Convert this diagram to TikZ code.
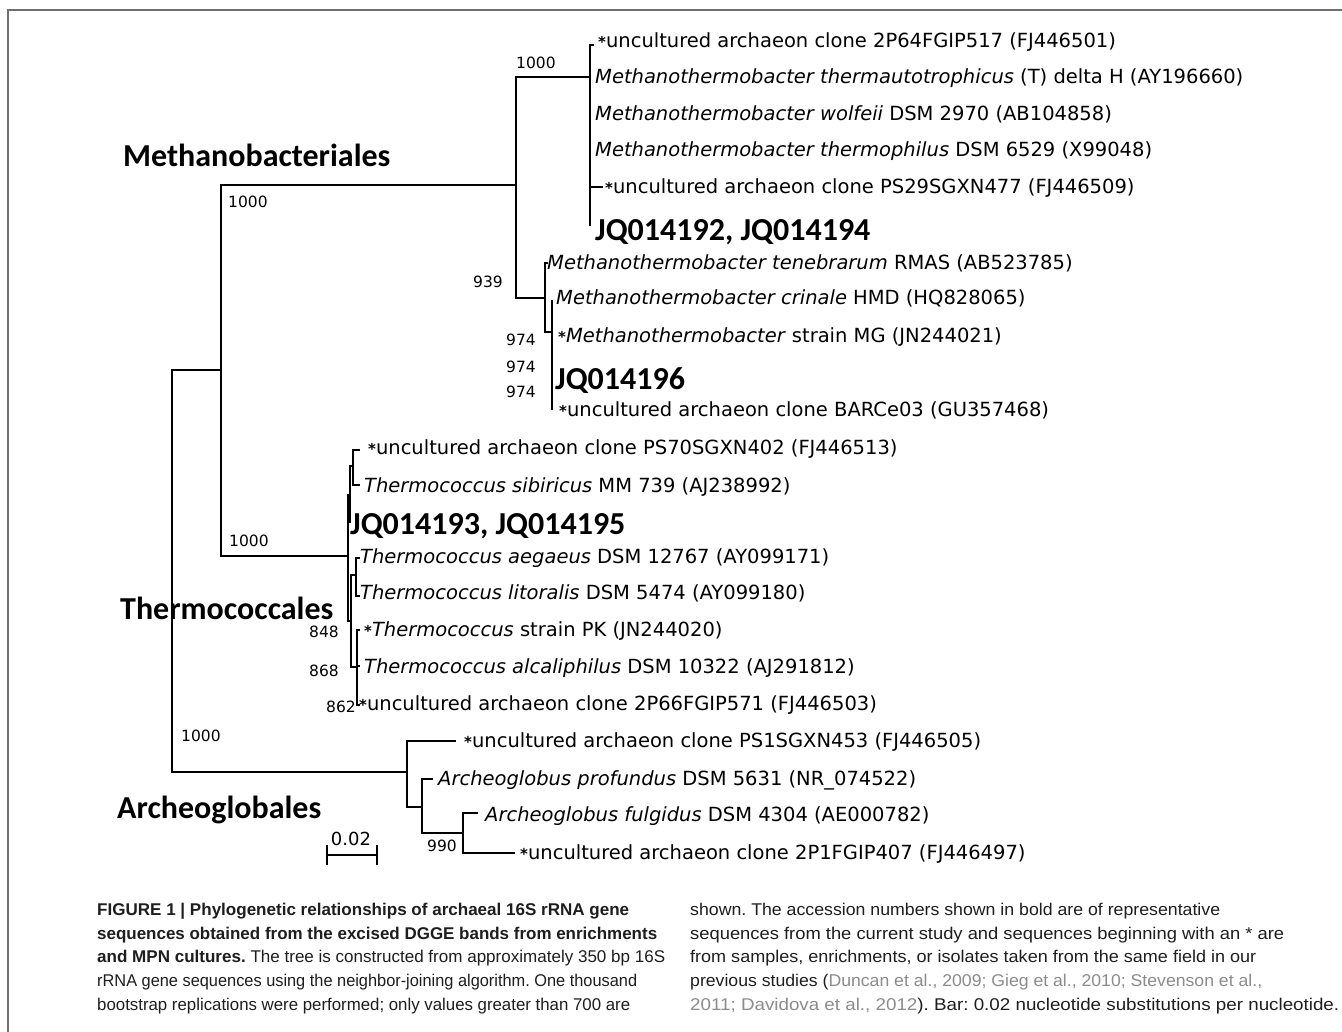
\documentclass[tikz,border=0pt]{standalone}
\usepackage{fontspec}
\usepackage{graphicx}
\setmainfont{DejaVu Sans}
\newfontfamily\carlito{Carlito}
\newfontfamily\capfont{Liberation Sans}
\definecolor{capgray}{HTML}{1E1E1E}
\definecolor{citegray}{HTML}{8C8C8C}
\definecolor{framegray}{HTML}{707070}
\newcommand\mystar{{\fontsize{15}{15}\selectfont\bfseries *}}
\newcommand\leaffont{\fontsize{19.5}{23}\selectfont}
\newcommand\capfit[2]{\resizebox{#1pt}{\height}{#2}}
\frenchspacing
\tikzset{
  br/.style={line width=1.8pt, black},
  leaf/.style={anchor=base west, inner sep=0pt, font=\leaffont},
  acc/.style={anchor=base west, inner sep=0pt, font=\carlito\bfseries\fontsize{32}{36}\selectfont},
  clade/.style={anchor=base west, inner sep=0pt, text depth=0pt, font=\carlito\bfseries\fontsize{32}{36}\selectfont},
  boot/.style={anchor=base west, inner sep=0pt, font=\fontsize{15.5}{18}\selectfont},
  capline/.style={anchor=base west, inner sep=0pt, font=\capfont\fontsize{17}{20}\selectfont, text=capgray},
}
\begin{document}
\begin{tikzpicture}[x=1pt,y=-1pt]
\useasboundingbox (0,0) rectangle (1342,1032);
\fill[white] (0,0) rectangle (1342,1032);
% frame
\coordinate (fa) at (8,10);
\coordinate (fb) at (1342,10);
\coordinate (fc) at (8,1032);
\draw[framegray, line width=1.6pt] (fc) -- (fa) -- (fb);

% internal nodes
\coordinate (R) at (172,571);
\coordinate (A) at (221,370);
\coordinate (M) at (516,185);
\coordinate (M1) at (590,77);
\coordinate (M2) at (545,298);
\coordinate (M3) at (552,332);
\coordinate (T) at (348,556);
\coordinate (U) at (350,495);
\coordinate (U1) at (353,466);
\coordinate (L) at (351,621);
\coordinate (AL) at (356,575);
\coordinate (PK) at (357,667);
\coordinate (Ar) at (407,772);
\coordinate (Ar2) at (422,807);
\coordinate (Ar3) at (463,833);
% leaf tips
\coordinate (p1) at (594,45);
\coordinate (p2) at (590,77);
\coordinate (p3) at (590,114);
\coordinate (p4) at (590,150);
\coordinate (p5) at (603,187);
\coordinate (p6) at (590,226);
\coordinate (p7) at (548,263);
\coordinate (p8) at (552,300);
\coordinate (p9) at (552,336);
\coordinate (p10) at (552,378);
\coordinate (p11) at (552,410);
\coordinate (p12) at (360,450);
\coordinate (p13) at (360,485);
\coordinate (p14) at (350,523);
\coordinate (p15) at (360,558);
\coordinate (p16) at (360,596);
\coordinate (p17) at (360,630);
\coordinate (p18) at (360,666);
\coordinate (p19) at (360,705);
\coordinate (p20) at (456,741);
\coordinate (p21) at (433,779);
\coordinate (p22) at (478,813);
\coordinate (p23) at (515,853);

% branches
\draw[br] (R) |- (A);
\draw[br] (R) |- (Ar);
\draw[br] (A) |- (M);
\draw[br] (A) |- (T);
\draw[br] (M) |- (M1);
\draw[br] (M) |- (M2);
\foreach \c in {p1,p2,p3,p4,p5,p6} \draw[br] (M1) |- (\c);
\draw[br] (M2) |- (p7);
\draw[br] (M2) |- (M3);
\foreach \c in {p8,p9,p10,p11} \draw[br] (M3) |- (\c);
\draw[br] (T) |- (U);
\draw[br] (T) |- (L);
\draw[br] (U) |- (U1);
\draw[br] (U) |- (p14);
\draw[br] (U1) |- (p12);
\draw[br] (U1) |- (p13);
\draw[br] (L) |- (AL);
\draw[br] (L) |- (PK);
\draw[br] (AL) |- (p15);
\draw[br] (AL) |- (p16);
\foreach \c in {p17,p18,p19} \draw[br] (PK) |- (\c);
\draw[br] (Ar) |- (p20);
\draw[br] (Ar) |- (Ar2);
\draw[br] (Ar2) |- (p21);
\draw[br] (Ar2) |- (Ar3);
\draw[br] (Ar3) |- (p22);
\draw[br] (Ar3) |- (p23);

% leaf labels
\node[leaf] (t1) at (598,48) {\mystar uncultured archaeon clone 2P64FGIP517 (FJ446501)};
\node[leaf] (t2) at (595,84) {\textit{Methanothermobacter thermautotrophicus} (T) delta H (AY196660)};
\node[leaf] (t3) at (595,121) {\textit{Methanothermobacter wolfeii} DSM 2970 (AB104858)};
\node[leaf] (t4) at (595,157) {\textit{Methanothermobacter thermophilus} DSM 6529 (X99048)};
\node[leaf] (t5) at (605,194) {\mystar uncultured archaeon clone PS29SGXN477 (FJ446509)};
\node[acc] (t6) at (595,241) {JQ014192, JQ014194};
\node[leaf] (t7) at (547,270) {\textit{Methanothermobacter tenebrarum} RMAS (AB523785)};
\node[leaf] (t8) at (556,305) {\textit{Methanothermobacter crinale} HMD (HQ828065)};
\node[leaf] (t9) at (558,343) {\mystar\textit{Methanothermobacter} strain MG (JN244021)};
\node[acc] (t10) at (555,389) {JQ014196};
\node[leaf] (t11) at (559,417) {\mystar uncultured archaeon clone BARCe03 (GU357468)};
\node[leaf] (t12) at (368,454) {\mystar uncultured archaeon clone PS70SGXN402 (FJ446513)};
\node[leaf] (t13) at (364,492) {\textit{Thermococcus sibiricus} MM 739 (AJ238992)};
\node[acc] (t14) at (350,534) {JQ014193, JQ014195};
\node[leaf] (t15) at (360,563) {\textit{Thermococcus aegaeus} DSM 12767 (AY099171)};
\node[leaf] (t16) at (360,599) {\textit{Thermococcus litoralis} DSM 5474 (AY099180)};
\node[leaf] (t17) at (364,636) {\mystar\textit{Thermococcus} strain PK (JN244020)};
\node[leaf] (t18) at (364,673) {\textit{Thermococcus alcaliphilus} DSM 10322 (AJ291812)};
\node[leaf] (t19) at (359,710) {\mystar uncultured archaeon clone 2P66FGIP571 (FJ446503)};
\node[leaf] (t20) at (464,747) {\mystar uncultured archaeon clone PS1SGXN453 (FJ446505)};
\node[leaf] (t21) at (438,785) {\textit{Archeoglobus profundus} DSM 5631 (NR\_074522)};
\node[leaf] (t22) at (485,821) {\textit{Archeoglobus fulgidus} DSM 4304 (AE000782)};
\node[leaf] (t23) at (520,859) {\mystar uncultured archaeon clone 2P1FGIP407 (FJ446497)};

% clade labels
\node[clade] (c1) at (123,167) {Methanobacteriales};
\node[clade] (c2) at (120,619) {Thermococcales};
\node[clade] (c3) at (117,818) {Archeoglobales};

% bootstrap values
\node[boot] (b1) at (516,69) {1000};
\node[boot] (b2) at (228,208) {1000};
\node[boot] (b3) at (473,288) {939};
\node[boot] (b4) at (506,346) {974};
\node[boot] (b5) at (506,373) {974};
\node[boot] (b6) at (506,397) {974};
\node[boot] (b7) at (229,546) {1000};
\node[boot] (b8) at (309,637) {848};
\node[boot] (b9) at (309,676) {868};
\node[boot] (b10) at (326,712) {862};
\node[boot] (b11) at (181,741) {1000};
\node[boot] (b12) at (427,851) {990};

% scale bar
\coordinate (s1) at (327,855);
\coordinate (s2) at (377,855);
\draw[line width=1.8pt] (s1) -- (s2);
\draw[line width=1.8pt] ([yshift=-10pt]s1) -- ([yshift=10pt]s1);
\draw[line width=1.8pt] ([yshift=-10pt]s2) -- ([yshift=10pt]s2);
\node[anchor=base, inner sep=0pt, font=\fontsize{18}{20}\selectfont] (sl) at (351,845) {0.02};

% caption
\node[capline] (k1) at (97,915) {\capfit{532}{\bfseries FIGURE 1 | Phylogenetic relationships of archaeal 16S rRNA gene}};
\node[capline] (k2) at (97,939) {\capfit{560}{\bfseries sequences obtained from the excised DGGE bands from enrichments}};
\node[capline] (k3) at (97,962) {\capfit{568}{\textbf{and MPN cultures.} The tree is constructed from approximately 350 bp 16S}};
\node[capline] (k4) at (97,986) {\capfit{540}{rRNA gene sequences using the neighbor-joining algorithm. One thousand}};
\node[capline] (k5) at (97,1010) {\capfit{533}{bootstrap replications were performed; only values greater than 700 are}};
\node[capline] (k6) at (690,915) {\capfit{530}{shown. The accession numbers shown in bold are of representative}};
\node[capline] (k7) at (690,939) {\capfit{594}{sequences from the current study and sequences beginning with an * are}};
\node[capline] (k8) at (690,962) {\capfit{566}{from samples, enrichments, or isolates taken from the same field in our}};
\node[capline] (k9) at (690,986) {\capfit{572}{previous studies (\textcolor{citegray}{Duncan et al., 2009; Gieg et al., 2010; Stevenson et al.,}}};
\node[capline] (k10) at (690,1010) {\capfit{649}{\textcolor{citegray}{2011; Davidova et al., 2012}). Bar: 0.02 nucleotide substitutions per nucleotide.}};
\end{tikzpicture}
\end{document}
